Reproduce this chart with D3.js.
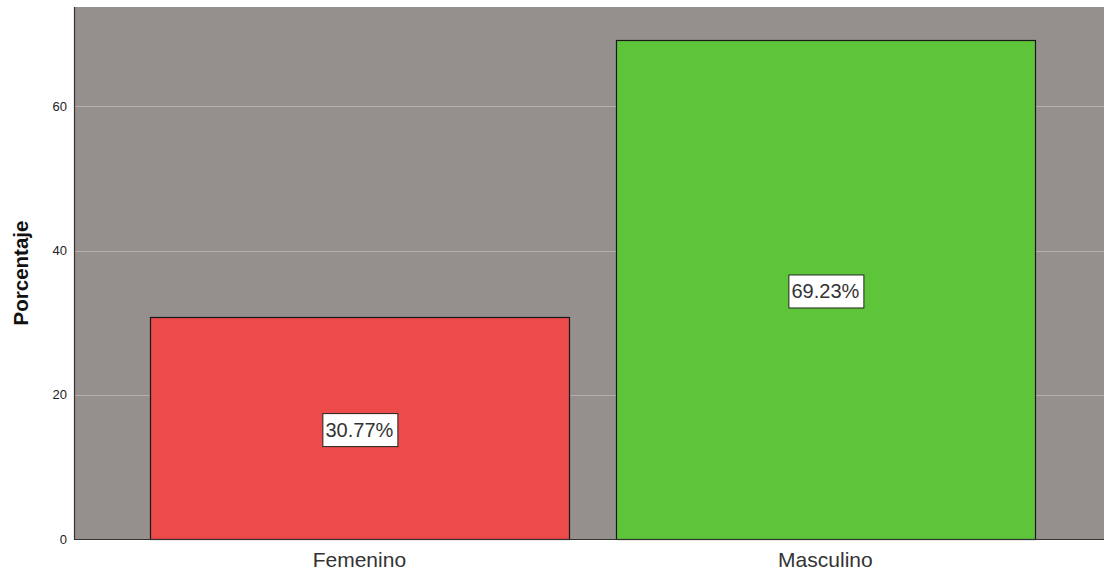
<!DOCTYPE html>
<html>
<head>
<meta charset="utf-8">
<script src="https://cdn.jsdelivr.net/npm/d3@7"></script>
<style>
	body { margin: 0; background: #fff; }
	svg { display: block; font-family: "Liberation Sans", Arial, sans-serif; }
</style>
</head>
<body>
<div id="box"></div>
<script>
const categories = ['Femenino', 'Masculino'];
const values = [30.77, 69.23];
const colors = ['#ec4a4b', '#5ec53a'];
const yTicks = [0, 20, 40, 60];

const width = 1104;
const height = 575;

const marginTop = 7;
const marginRight = 0;
const marginBottom = 36;
const marginLeft = 75;

const x = d3.scaleBand(categories, [marginLeft, width - marginRight])
	.paddingInner(0.1009)
	.paddingOuter(0.1545)
	.align(0.52);
const y = d3.scaleLinear([0, 73.8], [height - marginBottom, marginTop]);

const svg = d3.select('#box').append('svg')
	.attr('width', width)
	.attr('height', height)
	.attr('viewBox', [0, 0, width, height]);

// plot background
svg.append('rect')
	.attr('x', marginLeft - 1)
	.attr('y', marginTop)
	.attr('width', width - marginLeft - marginRight + 1)
	.attr('height', height - marginTop - marginBottom)
	.attr('fill', '#958f8e');

// grid lines
svg.append('g')
	.selectAll('line')
	.data(yTicks.filter(t => t > 0))
	.join('line')
	.attr('x1', marginLeft)
	.attr('x2', width - marginRight)
	.attr('y1', d => Math.round(y(d)) + 0.5)
	.attr('y2', d => Math.round(y(d)) + 0.5)
	.attr('stroke', '#b4b0af')
	.attr('stroke-width', 1);

// bars
svg.append('g')
	.selectAll('rect')
	.data(values)
	.join('rect')
	.attr('x', (_, i) => Math.round(x(categories[i])) + 0.5)
	.attr('y', d => Math.round(y(d)) + 0.5)
	.attr('width', Math.round(x.bandwidth()))
	.attr('height', d => Math.round(y(0)) - Math.round(y(d)))
	.attr('fill', (_, i) => colors[i])
	.attr('stroke', '#1a1a1a')
	.attr('stroke-width', 1.2);

// value labels
const labels = svg.append('g')
	.selectAll('g')
	.data(values)
	.join('g')
	.attr('transform', (d, i) => `translate(${x(categories[i]) + x.bandwidth() / 2},${(y(d) + y(0)) / 2 + 2})`);

labels.append('text')
	.attr('text-anchor', 'middle')
	.attr('dy', '0.35em')
	.attr('font-size', 20)
	.attr('fill', '#333')
	.text(d => d.toFixed(2) + '%');

labels.each(function () {
	const g = d3.select(this);
	const b = g.select('text').node().getBBox();
	g.insert('rect', 'text')
		.attr('x', Math.round(b.x - 3.5) + 0.5)
		.attr('y', -16.5)
		.attr('width', Math.round(b.width + 7))
		.attr('height', 33)
		.attr('fill', '#fff')
		.attr('stroke', '#222')
		.attr('stroke-width', 1);
});

// y axis
svg.append('g')
	.attr('transform', `translate(${marginLeft},0)`)
	.call(d3.axisLeft(y).tickValues(yTicks).tickSize(0).tickPadding(8))
	.call(g => g.select('.domain').remove())
	.call(g => g.selectAll('text').attr('font-size', 13).attr('fill', '#222').attr('font-family', null));

// x axis
svg.append('g')
	.attr('transform', `translate(0,${height - marginBottom})`)
	.call(d3.axisBottom(x).tickSize(0).tickPadding(13))
	.call(g => g.select('.domain').remove())
	.call(g => g.selectAll('text').attr('font-size', 21).attr('fill', '#333').attr('font-family', null));

// axis lines
svg.append('line')
	.attr('x1', marginLeft - 0.5).attr('x2', marginLeft - 0.5)
	.attr('y1', marginTop).attr('y2', height - marginBottom + 1)
	.attr('stroke', '#333').attr('stroke-width', 1.2);
svg.append('line')
	.attr('x1', marginLeft - 1).attr('x2', width)
	.attr('y1', height - marginBottom + 0.5).attr('y2', height - marginBottom + 0.5)
	.attr('stroke', '#333').attr('stroke-width', 1.2);

// y title
svg.append('text')
	.attr('transform', `translate(28,${(marginTop + height - marginBottom) / 2}) rotate(-90)`)
	.attr('text-anchor', 'middle')
	.attr('font-size', 20.5)
	.attr('font-weight', 'bold')
	.attr('fill', '#111')
	.text('Porcentaje');
</script>
</body>
</html>
